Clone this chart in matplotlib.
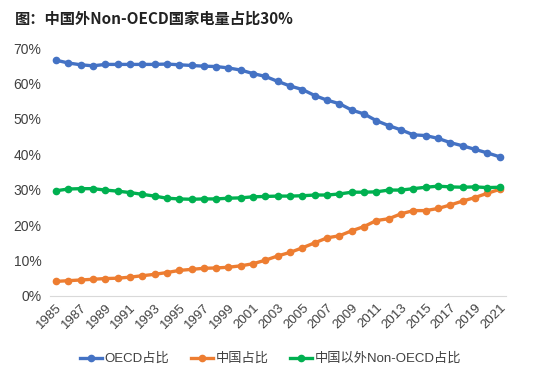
# -*- coding: utf-8 -*-
# 中国外Non-OECD国家电量占比

import matplotlib.pyplot as plt
from matplotlib.ticker import FuncFormatter

years = list(range(1985, 2022))

oecd = [66.6, 65.8, 65.3, 65.0, 65.4, 65.4, 65.4, 65.4, 65.4, 65.5,
        65.3, 65.1, 64.9, 64.8, 64.4, 63.8, 62.8, 62.0, 60.6, 59.3,
        58.3, 56.6, 55.3, 54.3, 52.5, 51.4, 49.5, 48.1, 46.9, 45.5,
        45.3, 44.5, 43.3, 42.4, 41.4, 40.4, 39.3]
china = [4.1, 4.3, 4.5, 4.7, 4.9, 5.0, 5.3, 5.7, 6.1, 6.6,
         7.2, 7.5, 7.8, 7.9, 8.1, 8.5, 9.1, 10.1, 11.3, 12.3,
         13.6, 15.0, 16.4, 17.0, 18.4, 19.6, 21.3, 21.8, 23.2, 24.1,
         24.1, 24.7, 25.7, 26.8, 27.8, 29.0, 30.1]
other = [29.7, 30.2, 30.3, 30.3, 29.9, 29.6, 29.2, 28.7, 28.2, 27.6,
         27.4, 27.3, 27.4, 27.4, 27.6, 27.7, 28.0, 28.1, 28.2, 28.2,
         28.3, 28.5, 28.5, 28.8, 29.3, 29.3, 29.4, 29.9, 29.9, 30.3,
         30.7, 31.0, 30.8, 30.7, 30.8, 30.6, 30.7]

labels = ['OECD占比', '中国占比', '中国以外Non-OECD占比']
colors = ['#4472C4', '#ED7D31', '#00B050']

plt.rcParams['font.family'] = ['Liberation Sans', 'Noto Sans CJK SC']

fig = plt.figure(figsize=(5.41, 3.76), dpi=100)
ax = fig.add_axes([0.092, 0.213, 0.843, 0.659])

for series, name, c in zip([oecd, china, other], labels, colors):
    ax.plot(years, series, color=c, lw=2.4, marker='o', ms=4.5, label=name)

ax.set_ylim(0, 70)
ax.set_yticks(range(0, 71, 10))
ax.yaxis.set_major_formatter(FuncFormatter(lambda v, p: f'{v:.0f}%'))
ax.set_xlim(1984.5, 2021.5)
ax.set_xticks(years[::2])
ax.set_xticklabels([str(y) for y in years[::2]], rotation=45, ha='right',
                   rotation_mode='anchor')

for s in ['top', 'right', 'left']:
    ax.spines[s].set_visible(False)
ax.spines['bottom'].set_color('#d9d9d9')
ax.tick_params(axis='both', length=0, labelsize=10, colors='#404040')
ax.tick_params(axis='x', labelsize=9.5, pad=4)
ax.tick_params(axis='y', pad=6)

fig.text(0.028, 0.95, '图：中国外Non-OECD国家电量占比30%', fontsize=11,
         fontweight='bold', family=['Noto Sans CJK SC'], va='center',
         color='#222222')

fig.legend(loc='center', bbox_to_anchor=(0.5, 0.045), ncol=3, frameon=False,
           fontsize=9.5, handlelength=1.7, columnspacing=1.6,
           handletextpad=0.2, labelcolor='#404040')

fig.savefig('out.png', dpi=100)
